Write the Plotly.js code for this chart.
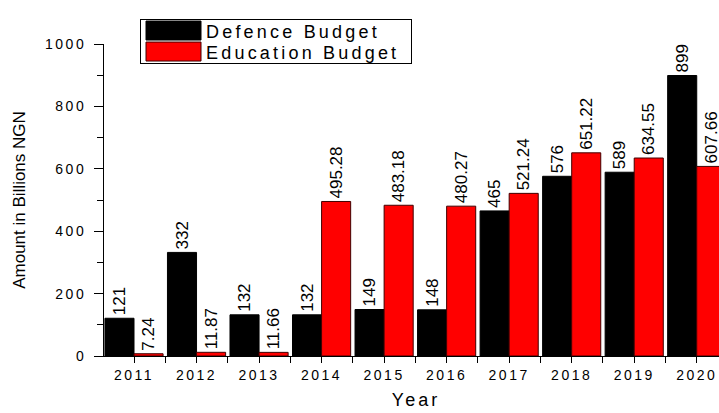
<!DOCTYPE html>
<html><head><meta charset="utf-8">
<script src="https://cdn.plot.ly/plotly-3.0.1.min.js"></script>
<style>html,body{margin:0;padding:0;overflow:hidden;background:#fff}</style>
</head><body><div id="chart"></div>
<script>
const years = [2011, 2012, 2013, 2014, 2015, 2016, 2017, 2018, 2019, 2020];
const defence = [121, 332, 132, 132, 149, 148, 465, 576, 589, 899];
const education = [7.24, 11.87, 11.66, 495.28, 483.18, 480.27, 521.24, 651.22, 634.55, 607.66];
const defenceLabels = ['121', '332', '132', '132', '149', '148', '465', '576', '589', '899'];
const educationLabels = ['7.24', '11.87', '11.66', '495.28', '483.18', '480.27', '521.24', '651.22', '634.55', '607.66'];

const ARIAL = 'Liberation Sans, Arial, sans-serif';
const labelFont = {family: ARIAL, size: 17, color: '#000'};
const tickFont = {family: ARIAL, size: 14, color: '#000'};

const traces = [
  {type: 'bar', x: years, y: defence, name: 'Defence Budget',
   marker: {color: '#000000', line: {color: '#000000', width: 1}},
   text: defenceLabels, textposition: 'outside', textangle: -90, textfont: labelFont,
   cliponaxis: false, constraintext: 'none', hoverinfo: 'x+y'},
  {type: 'bar', x: years, y: education, name: 'Education Budget',
   marker: {color: '#ff0000', line: {color: '#400000', width: 1}},
   text: educationLabels, textposition: 'outside', textangle: -90, textfont: labelFont,
   cliponaxis: false, constraintext: 'none', hoverinfo: 'x+y'}
];

const layout = {
  width: 740, height: 413,
  margin: {l: 104, r: 12, t: 44, b: 57},
  paper_bgcolor: '#fff', plot_bgcolor: '#fff',
  barmode: 'group', bargap: 0.07, bargroupgap: 0,
  xaxis: {
    type: 'linear', range: [2010.52, 2020.5], tick0: 2011, dtick: 1, tickformat: 'd',
    showline: true, linecolor: '#000', linewidth: 1, showgrid: false, zeroline: false,
    ticks: 'outside', ticklen: 6, tickcolor: '#000', tickfont: tickFont,
    minor: {tick0: 2010.5, dtick: 1, ticks: 'outside', ticklen: 6, tickcolor: '#000', showgrid: false},
    title: {text: 'Year', font: {family: ARIAL, size: 18, color: '#000'}, standoff: 11},
    automargin: false
  },
  yaxis: {
    range: [0, 1000], dtick: 200, tick0: 0,
    showline: true, linecolor: '#000', linewidth: 1, showgrid: false, zeroline: false,
    ticks: 'outside', ticklen: 9, tickcolor: '#000', tickfont: tickFont, ticklabelstandoff: 5,
    minor: {dtick: 100, ticks: 'outside', ticklen: 6, tickcolor: '#000', showgrid: false},
    title: {text: 'Amount in Billions NGN', font: {family: ARIAL, size: 17, color: '#000'}, standoff: 25},
    automargin: false
  },
  showlegend: true,
  legend: {
    x: 0.0577, y: 1.08, xanchor: 'left', yanchor: 'top',
    bgcolor: '#fff', bordercolor: '#000', borderwidth: 1,
    font: {family: ARIAL, size: 18, color: '#000'},
    itemwidth: 55, tracegroupgap: 0
  }
};

function tweak(gd) {
  gd.querySelectorAll('.xtick text, .ytick text').forEach(function (t) { t.style.letterSpacing = '2.5px'; });
  gd.querySelectorAll('.g-xtitle text').forEach(function (t) { t.style.letterSpacing = '3px'; });
  const leg = gd.querySelector('.legend');
  if (!leg) return;
  leg.querySelectorAll('.legendtext').forEach(function (t) { t.style.letterSpacing = '3.2px'; });
  leg.querySelectorAll('.legendpoints path').forEach(function (p) {
    p.setAttribute('d', 'M27.5,9.5H-27.5V-9.5H27.5Z');
  });
  leg.querySelectorAll('.traces').forEach(function (g, i) {
    const m = /translate\(\s*([-\d.e]+)[ ,]+([-\d.e]+)\s*\)/.exec(g.getAttribute('transform') || '');
    const x = m ? m[1] : 1;
    g.setAttribute('transform', 'translate(' + x + ',' + (11.5 + 21 * i) + ')');
  });
  const bg = leg.querySelector('rect.bg');
  if (bg) { bg.setAttribute('width', 271); bg.setAttribute('height', 44); }
  const sb = leg.querySelector('.scrollbox');
  if (sb) sb.removeAttribute('clip-path');
}

Plotly.newPlot('chart', traces, layout, {displayModeBar: false, staticPlot: true}).then(tweak);
</script>
</body></html>
